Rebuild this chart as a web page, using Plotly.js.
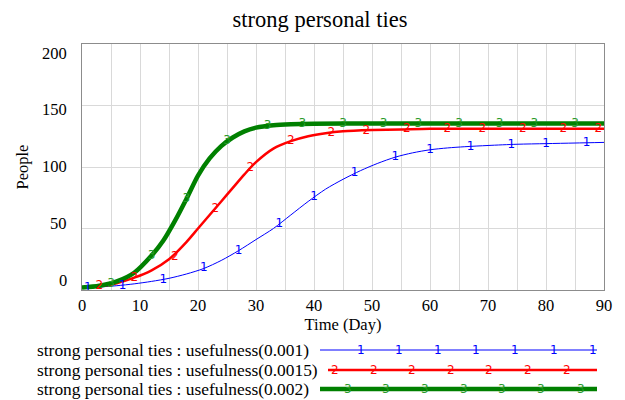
<!DOCTYPE html>
<html><head><meta charset="utf-8">
<script src="https://cdn.plot.ly/plotly-3.0.1.min.js"></script>
<style>html,body{margin:0;padding:0;background:#fff}</style>
</head><body>
<div id="chart" style="width:625px;height:400px"></div>
<script>
// ---- data ----
var seriesNames = [
  "strong personal ties : usefulness(0.001)",
  "strong personal ties : usefulness(0.0015)",
  "strong personal ties : usefulness(0.002)"
];
var markerLabels = ["1", "2", "3"];

var blueDays = [0,3,6,9,12,15,18,21,24,27,30,33,36,39,42,45,48,51,54,57,60,63,66,70,75,80,85,90];
var blueVals = [2,2.5,3.5,5,7,9.5,13,17.5,24,32,41,50,61,72,82,90,97,103,108,111.5,114,115.5,116.5,117.5,118.5,119,119.5,120];

var redDays = [0,3,6,9,12,15,18,20,22,24,26,28,30,33,36,39,42,45,50,55,60,70,80,90];
var redVals = [2,3,5.5,10,16,25,39,50,61,72,83,94,104,115,121,125,127.5,129,130,130.5,131,131,131,131];

var greenDays = [0,3,6,9,12,14,16,18,20,22,24,26,28,30,33,36,40,50,60,70,80,90];
var greenVals = [2,3.5,7,14,28,40,56,74,93,107,117,124,129,132,134,134.8,135.2,135.3,135.3,135.3,135.3,135.3];

var blueMarkX = [1,7,14,21,27,34,40,47,54,60,67,74,80,87];
var blueMarkY = [2,3.5,8.5,17.5,32,54,76,95,108,114,116.5,118,119,119.5];
var redMarkX = [3,9,16,23,29,36,43,49,56,63,69,76,83,89];
var redMarkY = [3,10,27,66,99,121,127.5,129.5,130.5,131,131,131,131,131];
var greenMarkX = [5,12,18,25,32,38,45,52,58,65,72,78,85];
var greenMarkY = [5,28,74,121,133,134.7,135.2,135.3,135.3,135.3,135.3,135.3,135.3];

var xTicks = [0,10,20,30,40,50,60,70,80,90];
var yTicks = [0,50,100,150,200];

// ---- styles ----
var colors = ["#0000ff", "#ff0000", "#008000"];
var markColors = ["#0000ff", "#ff0000", "#2a9a2a"];
var widths = [1, 2.5, 4.5];
var serif = "Liberation Serif, Times New Roman, serif";

var W = 625, H = 400, L = 82, R = 21, T = 44, B = 110;
function px2x(px){ return (px - L) / (W - L - R); }
function py2y(py){ return (H - B - py) / (H - T - B); }

var lineData = [[blueDays, blueVals], [redDays, redVals], [greenDays, greenVals]];
var markData = [[blueMarkX, blueMarkY], [redMarkX, redMarkY], [greenMarkX, greenMarkY]];

var traces = [];
for (var i = 0; i < 3; i++) {
  traces.push({x: lineData[i][0], y: lineData[i][1], mode: "lines", type: "scatter",
    line: {color: colors[i], width: widths[i], shape: "spline", smoothing: 0.8},
    name: seriesNames[i], showlegend: false, hoverinfo: "skip", cliponaxis: false});
}
for (var i = 0; i < 3; i++) {
  traces.push({x: markData[i][0], y: markData[i][1], mode: "text", type: "scatter",
    text: markData[i][0].map(function(){ return markerLabels[i]; }),
    textposition: "middle center",
    textfont: {family: "DejaVu Sans, sans-serif", size: 12, color: markColors[i]},
    showlegend: false, hoverinfo: "skip", cliponaxis: false});
}

// ---- custom legend ----
var legendY = [350, 370, 389];
var legendLineX = [[320, 597], [328, 597], [320, 597]];
var legendMarkX = [
  [361,399,438,476,515,554,593],
  [335,374,412,451,489,528,567],
  [348,386,425,464,502,541,581]
];
var shapes = [], annotations = [];
for (var i = 0; i < 3; i++) {
  shapes.push({type: "line", xref: "paper", yref: "paper",
    x0: px2x(legendLineX[i][0]), x1: px2x(legendLineX[i][1]),
    y0: py2y(legendY[i]), y1: py2y(legendY[i]),
    line: {color: colors[i], width: widths[i]}});
  annotations.push({xref: "paper", yref: "paper", x: px2x(35), y: py2y(legendY[i]),
    xanchor: "left", yanchor: "middle", showarrow: false, text: seriesNames[i],
    font: {family: serif, size: 17.4, color: "#000"}});
  for (var k = 0; k < legendMarkX[i].length; k++) {
    annotations.push({xref: "paper", yref: "paper", x: px2x(legendMarkX[i][k]), y: py2y(legendY[i]),
      xanchor: "center", yanchor: "middle", showarrow: false, text: markerLabels[i],
      font: {family: "DejaVu Sans, sans-serif", size: 12, color: markColors[i]}});
  }
}
// y tick labels (Vensim places them slightly compressed toward the middle)
for (var j = 0; j < yTicks.length; j++) {
  var v = yTicks[j];
  var py = 280 - v * 227 / 200;
  annotations.push({xref: "paper", yref: "paper", x: px2x(69), y: py2y(py),
    xanchor: "right", yanchor: "middle", showarrow: false, text: String(v),
    font: {family: serif, size: 16.5, color: "#000"}});
}

var layout = {
  width: W, height: H,
  margin: {l: L, r: R, t: T, b: B, pad: 0},
  paper_bgcolor: "#fff", plot_bgcolor: "#fff",
  title: {text: "strong personal ties", x: 320 / W, xref: "container", xanchor: "center",
    y: 1 - 19/H, yref: "container", yanchor: "middle",
    font: {family: serif, size: 22.5, color: "#000"}},
  font: {family: serif, color: "#000"},
  xaxis: {range: [0, 90], tickvals: xTicks, ticktext: xTicks.map(String),
    showgrid: true, gridcolor: "#d9d9d9", gridwidth: 1,
    minor: {dtick: 5, showgrid: true, gridcolor: "#d9d9d9", gridwidth: 1},
    zeroline: false, showline: true, linecolor: "#8c8c8c", linewidth: 1, mirror: true,
    ticks: "", tickfont: {family: serif, size: 16.5, color: "#000"},
    title: {text: "Time (Day)", font: {family: serif, size: 16.5, color: "#000"}, standoff: 4}},
  yaxis: {range: [0, 200], tickvals: yTicks, showticklabels: false,
    showgrid: true, gridcolor: "#d9d9d9", gridwidth: 1,
    zeroline: false, showline: true, linecolor: "#8c8c8c", linewidth: 1, mirror: true,
    ticks: "",
    title: {text: "People", font: {family: serif, size: 16.5, color: "#000"}, standoff: 48}},
  shapes: shapes,
  annotations: annotations
};

Plotly.newPlot("chart", traces, layout, {staticPlot: true, displayModeBar: false});
</script>
</body></html>
